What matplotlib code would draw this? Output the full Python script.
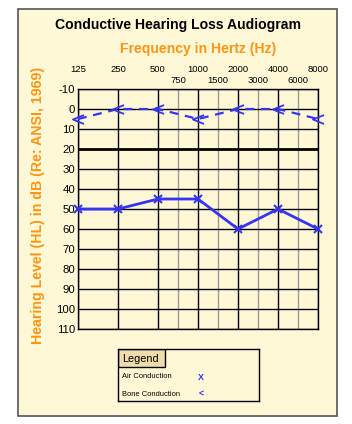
import numpy as np
import matplotlib.pyplot as plt
from matplotlib.patches import Rectangle
from matplotlib.path import Path

# audiogram data
octave_labels = ['125', '250', '500', '1000', '2000', '4000', '8000']
mid_labels = ['750', '1500', '3000', '6000']
octave_pos = [0, 1, 2, 3, 4, 5, 6]
mid_pos = [2.5, 3.5, 4.5, 5.5]
db_ticks = [-10, 0, 10, 20, 30, 40, 50, 60, 70, 80, 90, 100, 110]
air_db = [50, 50, 45, 45, 60, 50, 60]
bone_db = [5, 0, 0, 5, 0, 0, 5]

W, H = 352, 424
bg = '#FFF8D6'
orange = '#FF9512'
blue = '#3535F5'
font = 'Liberation Sans'
plt.rcParams['font.family'] = [font, 'DejaVu Sans']
plt.rcParams['axes.unicode_minus'] = False

fig = plt.figure(figsize=(W / 100, H / 100), dpi=100)
fig.patch.set_facecolor('white')

def px(x, y, w, h):
    return [x / W, 1 - (y + h) / H, w / W, h / H]

# outer frame
fig.patches.append(Rectangle((18 / W, 1 - 416 / H), 319 / W, 407 / H,
                             transform=fig.transFigure, facecolor=bg,
                             edgecolor='#555555', lw=1.2, zorder=-5))

fig.text(178 / W, 1 - 25 / H, 'Conductive Hearing Loss Audiogram',
         ha='center', va='center', fontsize=10.1, fontweight='bold')
fig.text(198 / W, 1 - 49 / H, 'Frequency in Hertz (Hz)',
         ha='center', va='center', fontsize=10.1, fontweight='bold', color=orange)
fig.text(38 / W, 1 - 205 / H, 'Hearing Level (HL) in dB (Re: ANSI, 1969)',
         ha='center', va='center', rotation=90, fontsize=10.2,
         fontweight='bold', color=orange)

ax = fig.add_axes(px(78, 89, 240, 240))
ax.set_facecolor(bg)
ax.set_xlim(0, 6)
ax.set_ylim(110, -10)

ax.xaxis.set_ticks_position('top')
ax.set_xticks(octave_pos)
ax.set_xticklabels(octave_labels)
ax.set_xticks(mid_pos, minor=True)
ax.set_xticklabels(mid_labels, minor=True)
ax.tick_params(axis='x', which='major', length=0, pad=10.5, labelsize=6.8)
ax.tick_params(axis='x', which='minor', length=0, pad=3.2, labelsize=6.8)
ax.set_yticks(db_ticks)
ax.tick_params(axis='y', length=0, pad=2, labelsize=8.2)

for p in octave_pos:
    ax.axvline(p, color='black', lw=1.0, zorder=1)
for p in mid_pos:
    ax.axvline(p, color='#999999', lw=1.0, zorder=1)
for d in db_ticks:
    ax.axhline(d, color='black', lw=2.0 if d == 20 else 1.0, zorder=1)
for s in ax.spines.values():
    s.set_linewidth(1.0)

bone_marker = Path([(1, 0.8), (-1, 0), (1, -0.8)],
                   [Path.MOVETO, Path.LINETO, Path.LINETO])

ax.plot(octave_pos, air_db, color=blue, lw=2, marker='x', ms=6,
        mew=1.5, clip_on=False, zorder=3)
ax.plot(octave_pos, bone_db, color=blue, lw=1.6, dashes=(4, 3),
        marker=bone_marker, ms=8, mfc='none', mew=1.3, clip_on=False, zorder=3)

# legend box
leg = fig.add_axes(px(118, 349, 141, 52))
leg.set_xlim(0, 141)
leg.set_ylim(52, 0)
leg.set_facecolor(bg)
leg.set_xticks([])
leg.set_yticks([])
for s in leg.spines.values():
    s.set_linewidth(1.0)
leg.add_patch(Rectangle((0, 0), 47, 18, facecolor='#EEDDAA',
                        edgecolor='black', lw=1.0))
leg.text(4, 9.5, 'Legend', va='center', fontsize=7.8)
leg.text(4, 28, 'Air Conduction', va='center', fontsize=5.4)
leg.text(4, 46, 'Bone Conduction', va='center', fontsize=5.4)
leg.text(83, 28, 'X', va='center', ha='center', fontsize=6.5,
         fontweight='bold', color=blue)
leg.text(83, 45, '<', va='center', ha='center', fontsize=6.5,
         fontweight='bold', color=blue)

fig.savefig('out.png', dpi=100, facecolor='white')
